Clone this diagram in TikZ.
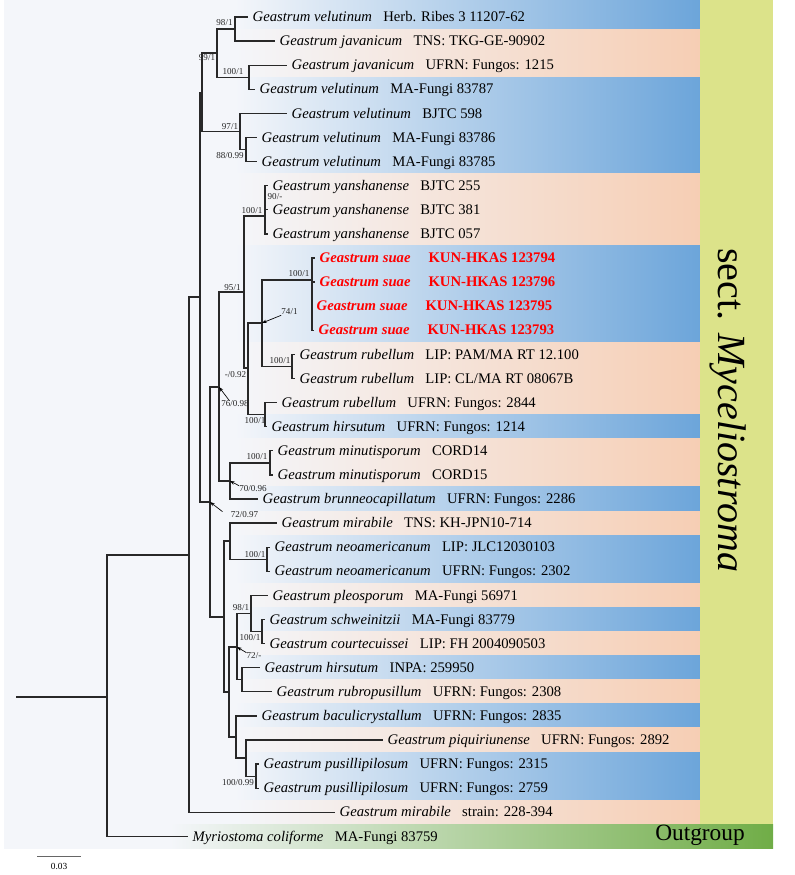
\documentclass[tikz,border=0pt]{standalone}
\usepackage{fontspec}
\setmainfont{Liberation Serif}
\usetikzlibrary{arrows.meta,calc}
\definecolor{bgc}{RGB}{244,246,250}
\definecolor{blueR}{RGB}{108,165,218}
\definecolor{peachR}{RGB}{246,206,180}
\definecolor{colg}{RGB}{220,227,138}
\definecolor{outg}{RGB}{112,173,71}
\definecolor{brc}{RGB}{40,40,40}
\definecolor{suaered}{RGB}{255,0,0}
\newcommand\leafT[2]{\textit{#1}\hspace{8.5pt}#2}
\newcommand\leafS[1]{\textcolor{suaered}{\textbf{\textit{Geastrum suae}}\hspace{13.5pt}\textbf{KUN-HKAS #1}}}
\newcommand\bandfill[3]{\shade[left color=bgc,right color=#3] (235,{4.95+24.1*(#1-1)}) rectangle (700,{29.05+24.1*(#2-1)});}
\tikzset{
  branch/.style={line width=0.95pt, draw=brc},
  leaf/.style={anchor=west, inner xsep=3.5pt, inner ysep=0pt, outer sep=0pt, text height=7.5pt, text depth=0.5pt, font=\fontsize{11}{13}\selectfont},
  suplab/.style={inner sep=0pt, font=\fontsize{6.8}{8}\selectfont, text=black!85},
  suparrow/.style={line width=0.5pt, draw=black, -{Stealth[length=3.5pt,width=2.6pt]}},
}
\begin{document}
\begin{tikzpicture}[x=0.75pt,y=-0.75pt]
\useasboundingbox (0,0) rectangle (794,875);
% background
\fill[bgc] (4,0) rectangle (773,848.5);
% bands
\shade[left color=bgc,right color=blueR] (235,0) rectangle (700,29.05);
\bandfill{2}{3}{peachR}
\bandfill{4}{7}{blueR}
\bandfill{8}{10}{peachR}
\bandfill{11}{14}{blueR}
\bandfill{15}{17}{peachR}
\bandfill{18}{18}{blueR}
\bandfill{19}{20}{peachR}
\bandfill{21}{21}{blueR}
\bandfill{22}{22}{peachR}
\bandfill{23}{24}{blueR}
\bandfill{25}{25}{peachR}
\bandfill{26}{26}{blueR}
\bandfill{27}{27}{peachR}
\bandfill{28}{28}{blueR}
\bandfill{29}{29}{peachR}
\bandfill{30}{30}{blueR}
\bandfill{31}{31}{peachR}
\bandfill{32}{33}{blueR}
\bandfill{34}{34}{peachR}
\fill[colg] (700,0) rectangle (773,824.4);
\shade[left color=bgc,right color=outg] (170,824.4) rectangle (773,848.5);
\node[font=\fontsize{30}{32}\selectfont, rotate=-90] (sect) at (728,410) {sect. \textit{Myceliostroma}};
\node[font=\fontsize{17.5}{19}\selectfont] (outgrp) at (700,835) {Outgroup};

% leaves
\node[leaf] (l1) at (248,17) {\leafT{Geastrum velutinum}{Herb. Ribes 3 11207-62}};
\node[leaf] (l2) at (275,41.1) {\leafT{Geastrum javanicum}{TNS: TKG-GE-90902}};
\node[leaf] (l3) at (287,65.2) {\leafT{Geastrum javanicum}{UFRN: Fungos: 1215}};
\node[leaf] (l4) at (255,89.3) {\leafT{Geastrum velutinum}{MA-Fungi 83787}};
\node[leaf] (l5) at (287,113.4) {\leafT{Geastrum velutinum}{BJTC 598}};
\node[leaf] (l6) at (257,137.5) {\leafT{Geastrum velutinum}{MA-Fungi 83786}};
\node[leaf] (l7) at (257,161.6) {\leafT{Geastrum velutinum}{MA-Fungi 83785}};
\node[leaf] (l8) at (268,185.7) {\leafT{Geastrum yanshanense}{BJTC 255}};
\node[leaf] (l9) at (268,209.8) {\leafT{Geastrum yanshanense}{BJTC 381}};
\node[leaf] (l10) at (268,233.9) {\leafT{Geastrum yanshanense}{BJTC 057}};
\node[leaf] (l11) at (315,258) {\leafS{123794}};
\node[leaf] (l12) at (315,282.1) {\leafS{123796}};
\node[leaf] (l13) at (312,306.2) {\leafS{123795}};
\node[leaf] (l14) at (314,330.3) {\leafS{123793}};
\node[leaf] (l15) at (295,354.4) {\leafT{Geastrum rubellum}{LIP: PAM/MA RT 12.100}};
\node[leaf] (l16) at (295,378.5) {\leafT{Geastrum rubellum}{LIP: CL/MA RT 08067B}};
\node[leaf] (l17) at (277,402.6) {\leafT{Geastrum rubellum}{UFRN: Fungos: 2844}};
\node[leaf] (l18) at (267,426.7) {\leafT{Geastrum hirsutum}{UFRN: Fungos: 1214}};
\node[leaf] (l19) at (273,450.8) {\leafT{Geastrum minutisporum}{CORD14}};
\node[leaf] (l20) at (273,474.9) {\leafT{Geastrum minutisporum}{CORD15}};
\node[leaf] (l21) at (258,499) {\leafT{Geastrum brunneocapillatum}{UFRN: Fungos: 2286}};
\node[leaf] (l22) at (277,523.1) {\leafT{Geastrum mirabile}{TNS: KH-JPN10-714}};
\node[leaf] (l23) at (270,547.2) {\leafT{Geastrum neoamericanum}{LIP: JLC12030103}};
\node[leaf] (l24) at (270,571.3) {\leafT{Geastrum neoamericanum}{UFRN: Fungos: 2302}};
\node[leaf] (l25) at (268,595.4) {\leafT{Geastrum pleosporum}{MA-Fungi 56971}};
\node[leaf] (l26) at (265,619.5) {\leafT{Geastrum schweinitzii}{MA-Fungi 83779}};
\node[leaf] (l27) at (265,643.6) {\leafT{Geastrum courtecuissei}{LIP: FH 2004090503}};
\node[leaf] (l28) at (260,667.7) {\leafT{Geastrum hirsutum}{INPA: 259950}};
\node[leaf] (l29) at (272,691.8) {\leafT{Geastrum rubropusillum}{UFRN: Fungos: 2308}};
\node[leaf] (l30) at (257,715.9) {\leafT{Geastrum baculicrystallum}{UFRN: Fungos: 2835}};
\node[leaf] (l31) at (383,740) {\leafT{Geastrum piquiriunense}{UFRN: Fungos: 2892}};
\node[leaf] (l32) at (259,764.1) {\leafT{Geastrum pusillipilosum}{UFRN: Fungos: 2315}};
\node[leaf] (l33) at (259,788.2) {\leafT{Geastrum pusillipilosum}{UFRN: Fungos: 2759}};
\node[leaf] (l34) at (335,812.3) {\leafT{Geastrum mirabile}{strain: 228-394}};
\node[leaf] (l35) at (188,836.4) {\leafT{Myriostoma coliforme}{MA-Fungi 83759}};

% internal nodes
\coordinate (rootbase) at (16,697);
\coordinate (root) at (107,697);
\coordinate (R1) at (189,555);
\coordinate (B) at (200,297);
\coordinate (A) at (202,92.5);
\coordinate (P1) at (217,53);
\coordinate (P3) at (235,29);
\coordinate (P4) at (249,77.3);
\coordinate (P2) at (240,131.5);
\coordinate (P5) at (246,149.5);
\coordinate (C) at (210,502);
\coordinate (D) at (219,387);
\coordinate (F) at (244,292);
\coordinate (Y) at (265,216);
\coordinate (G) at (248,368);
\coordinate (H) at (262,323);
\coordinate (S) at (312,280);
\coordinate (RB) at (292,366.5);
\coordinate (I) at (265,414.6);
\coordinate (J) at (230,481);
\coordinate (MN) at (270,462.9);
\coordinate (E) at (224,617);
\coordinate (K) at (230,541);
\coordinate (NA) at (267,559.3);
\coordinate (L) at (229,692);
\coordinate (M) at (237,647);
\coordinate (PL) at (251,613.5);
\coordinate (SC) at (262,631.5);
\coordinate (N) at (242,679.8);
\coordinate (BC) at (236,737);
\coordinate (PQ) at (246,758);
\coordinate (PU) at (256,776.2);

% branches
\draw[branch] (rootbase) -- (root);
\draw[branch] (root) |- (R1);
\draw[branch] (root) |- (l35.west);
\draw[branch] (R1) |- (B);
\draw[branch] (R1) |- (l34.west);
\draw[branch] (B) |- (A);
\draw[branch] (B) |- (C);
\draw[branch] (A) |- (P1);
\draw[branch] (A) |- (P2);
\draw[branch] (P1) |- (P3);
\draw[branch] (P1) |- (P4);
\draw[branch] (P3) |- (l1.west);
\draw[branch] (P3) |- (l2.west);
\draw[branch] (P4) |- (l3.west);
\draw[branch] (P4) |- (l4.west);
\draw[branch] (P2) |- (l5.west);
\draw[branch] (P2) |- (P5);
\draw[branch] (P5) |- (l6.west);
\draw[branch] (P5) |- (l7.west);
\draw[branch] (C) |- (D);
\draw[branch] (C) |- (E);
\draw[branch] (D) |- (F);
\draw[branch] (D) |- (J);
\draw[branch] (F) |- (Y);
\draw[branch] (F) |- (G);
\draw[branch] (Y) |- (l8.west);
\draw[branch] (Y) |- (l9.west);
\draw[branch] (Y) |- (l10.west);
\draw[branch] (G) |- (H);
\draw[branch] (G) |- (I);
\draw[branch] (H) |- (S);
\draw[branch] (H) |- (RB);
\draw[branch] (S) |- (l11.west);
\draw[branch] (S) |- (l12.west);
\draw[branch] (S) |- (l13.west);
\draw[branch] (S) |- (l14.west);
\draw[branch] (RB) |- (l15.west);
\draw[branch] (RB) |- (l16.west);
\draw[branch] (I) |- (l17.west);
\draw[branch] (I) |- (l18.west);
\draw[branch] (J) |- (MN);
\draw[branch] (J) |- (l21.west);
\draw[branch] (MN) |- (l19.west);
\draw[branch] (MN) |- (l20.west);
\draw[branch] (E) |- (K);
\draw[branch] (E) |- (L);
\draw[branch] (K) |- (l22.west);
\draw[branch] (K) |- (NA);
\draw[branch] (NA) |- (l23.west);
\draw[branch] (NA) |- (l24.west);
\draw[branch] (L) |- (M);
\draw[branch] (L) |- (BC);
\draw[branch] (M) |- (PL);
\draw[branch] (M) |- (N);
\draw[branch] (PL) |- (l25.west);
\draw[branch] (PL) |- (SC);
\draw[branch] (SC) |- (l26.west);
\draw[branch] (SC) |- (l27.west);
\draw[branch] (N) |- (l28.west);
\draw[branch] (N) |- (l29.west);
\draw[branch] (BC) |- (l30.west);
\draw[branch] (BC) |- (PQ);
\draw[branch] (PQ) |- (l31.west);
\draw[branch] (PQ) |- (PU);
\draw[branch] (PU) |- (l32.west);
\draw[branch] (PU) |- (l33.west);

% support values
\node[suplab] (s1) at (224.5,23) {98/1};
\node[suplab] (s2) at (207,58) {99/1};
\node[suplab] (s3) at (233,72) {100/1};
\node[suplab] (s4) at (230,127) {97/1};
\node[suplab] (s5) at (230,156) {88/0.99};
\node[suplab] (s6) at (252,211) {100/1};
\node[suplab] (s7) at (275,197) {90/-};
\node[suplab] (s8) at (232.5,288) {95/1};
\node[suplab] (s9) at (299,274) {100/1};
\node[suplab] (s10) at (289.5,312) {74/1};
\node[suplab] (s11) at (235.5,375) {-/0.92};
\node[suplab] (s12) at (280,361) {100/1};
\node[suplab] (s13) at (235,404) {76/0.98};
\node[suplab] (s14) at (255,421) {100/1};
\node[suplab] (s15) at (257,457) {100/1};
\node[suplab] (s16) at (253,489) {70/0.96};
\node[suplab] (s17) at (244.5,515) {72/0.97};
\node[suplab] (s18) at (255,555) {100/1};
\node[suplab] (s19) at (241,608) {98/1};
\node[suplab] (s20) at (250,638) {100/1};
\node[suplab] (s21) at (254,656) {72/-};
\node[suplab] (s22) at (238,783) {100/0.99};

\draw[suparrow] (s10.south west) -- (H);
\draw[suparrow] ($(s13.north west)!0.3!(s13.north east)$) -- (D);
\draw[suparrow] (s16.north west) -- (J);
\draw[suparrow] ([xshift=-6]s17.north west) -- (C);
\draw[suparrow] (s21.north west) -- (M);

% scale bar
\coordinate (sb1) at (37,856);
\coordinate (sb2) at (81,856);
\draw[line width=0.5pt, draw=black!60] (sb1) -- (sb2);
\node[font=\fontsize{7}{8}\selectfont, inner sep=0pt] (sbl) at (59,866) {0.03};
\end{tikzpicture}
\end{document}
